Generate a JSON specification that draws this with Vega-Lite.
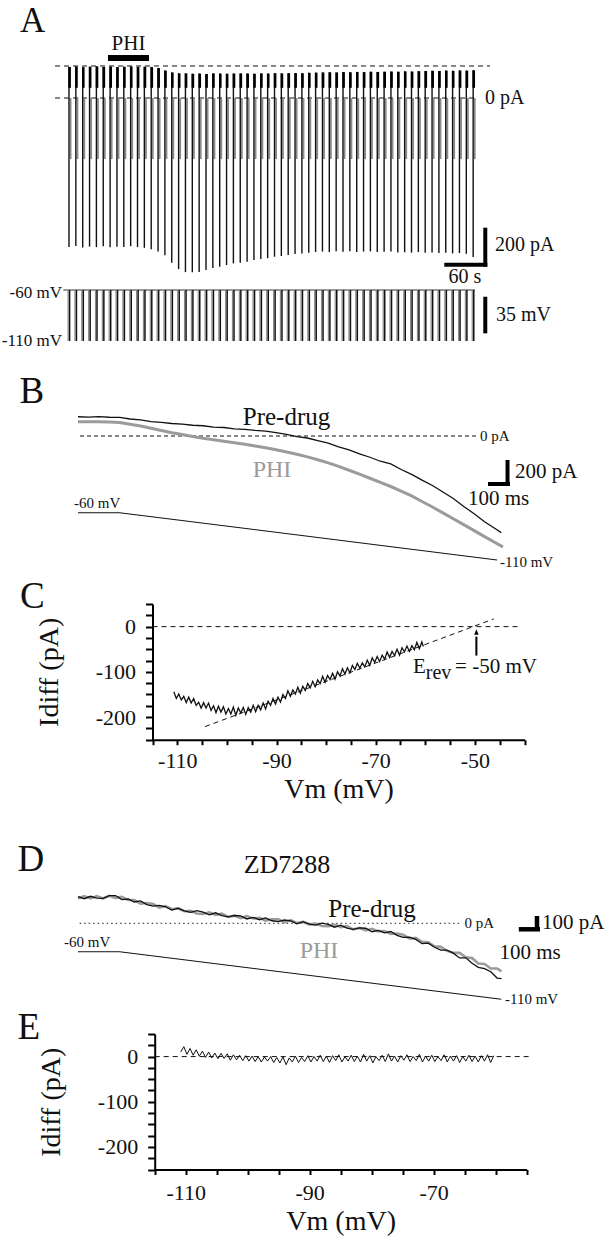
{
"$schema":"https://vega.github.io/schema/vega-lite/v6.json",
"padding":0,"spacing":0,"bounds":"flush","background":"white",
"config":{"view":{"stroke":null},"font":"Liberation Serif, Tinos, Times New Roman, DejaVu Serif, serif","text":{"font":"Liberation Serif, Tinos, Times New Roman, DejaVu Serif, serif","color":"#111"}},
"datasets":{"sweeps":[
{"t":0,"I":168,"I2":-805,"V":-60,"V2":-110},{"t":10,"I":170,"I2":-800,"V":-60,"V2":-110},{"t":20,"I":167,"I2":-808,"V":-60,"V2":-110},{"t":30,"I":169,"I2":-803,"V":-60,"V2":-110},{"t":40,"I":171,"I2":-806,"V":-60,"V2":-110},{"t":50,"I":168,"I2":-802,"V":-60,"V2":-110},{"t":60,"I":170,"I2":-807,"V":-60,"V2":-110},{"t":70,"I":167,"I2":-804,"V":-60,"V2":-110},{"t":80,"I":169,"I2":-805,"V":-60,"V2":-110},{"t":90,"I":170,"I2":-801,"V":-60,"V2":-110},{"t":100,"I":168,"I2":-806,"V":-60,"V2":-110},{"t":110,"I":169,"I2":-810,"V":-60,"V2":-110},{"t":120,"I":167,"I2":-818,"V":-60,"V2":-110},{"t":130,"I":162,"I2":-830,"V":-60,"V2":-110},{"t":140,"I":148,"I2":-850,"V":-60,"V2":-110},{"t":150,"I":138,"I2":-890,"V":-60,"V2":-110},{"t":160,"I":133,"I2":-925,"V":-60,"V2":-110},{"t":170,"I":133,"I2":-941,"V":-60,"V2":-110},{"t":180,"I":131,"I2":-942,"V":-60,"V2":-110},{"t":190,"I":132,"I2":-940,"V":-60,"V2":-110},{"t":200,"I":130,"I2":-930,"V":-60,"V2":-110},{"t":210,"I":133,"I2":-919,"V":-60,"V2":-110},{"t":220,"I":132,"I2":-912,"V":-60,"V2":-110},{"t":230,"I":131,"I2":-903,"V":-60,"V2":-110},{"t":240,"I":132,"I2":-894,"V":-60,"V2":-110},{"t":250,"I":133,"I2":-890,"V":-60,"V2":-110},{"t":260,"I":132,"I2":-885,"V":-60,"V2":-110},{"t":270,"I":131,"I2":-876,"V":-60,"V2":-110},{"t":280,"I":133,"I2":-870,"V":-60,"V2":-110},{"t":290,"I":132,"I2":-866,"V":-60,"V2":-110},{"t":300,"I":134,"I2":-858,"V":-60,"V2":-110},{"t":310,"I":133,"I2":-854,"V":-60,"V2":-110},{"t":320,"I":134,"I2":-849,"V":-60,"V2":-110},{"t":330,"I":135,"I2":-843,"V":-60,"V2":-110},{"t":340,"I":134,"I2":-840,"V":-60,"V2":-110},{"t":350,"I":136,"I2":-836,"V":-60,"V2":-110},{"t":360,"I":137,"I2":-832,"V":-60,"V2":-110},{"t":370,"I":138,"I2":-830,"V":-60,"V2":-110},{"t":380,"I":139,"I2":-833,"V":-60,"V2":-110},{"t":390,"I":138,"I2":-829,"V":-60,"V2":-110},{"t":400,"I":140,"I2":-831,"V":-60,"V2":-110},{"t":410,"I":139,"I2":-828,"V":-60,"V2":-110},{"t":420,"I":141,"I2":-832,"V":-60,"V2":-110},{"t":430,"I":140,"I2":-830,"V":-60,"V2":-110},{"t":440,"I":142,"I2":-829,"V":-60,"V2":-110},{"t":450,"I":141,"I2":-833,"V":-60,"V2":-110},{"t":460,"I":142,"I2":-831,"V":-60,"V2":-110},{"t":470,"I":143,"I2":-830,"V":-60,"V2":-110},{"t":480,"I":142,"I2":-835,"V":-60,"V2":-110},{"t":490,"I":144,"I2":-834,"V":-60,"V2":-110},{"t":500,"I":143,"I2":-836,"V":-60,"V2":-110},{"t":510,"I":145,"I2":-833,"V":-60,"V2":-110},{"t":520,"I":146,"I2":-837,"V":-60,"V2":-110},{"t":530,"I":147,"I2":-835,"V":-60,"V2":-110},{"t":540,"I":146,"I2":-838,"V":-60,"V2":-110},{"t":550,"I":148,"I2":-836,"V":-60,"V2":-110},{"t":560,"I":147,"I2":-840,"V":-60,"V2":-110},{"t":570,"I":149,"I2":-838,"V":-60,"V2":-110},{"t":580,"I":148,"I2":-842,"V":-60,"V2":-110},{"t":590,"I":150,"I2":-860,"V":-60,"V2":-110}
]},
"vconcat":[
{
"width":608,"height":280,
"encoding":{
"x":{"field":"t","type":"quantitative","scale":{"domain":[-100.73,786.86],"nice":false,"zero":false},"axis":null},
"y":{"field":"I","type":"quantitative","scale":{"domain":[-983.78,529.73],"nice":false,"zero":false},"axis":null}},
"layer":[
{"data":{"values":[{"t":-20.4,"t2":614.6,"I":173,"I2":173},{"t":-20.4,"t2":595.6,"I":0,"I2":0}]},
"mark":{"type":"rule","strokeDash":[5,4],"strokeWidth":1,"color":"#111"},
"encoding":{"x2":{"field":"t2"},"y2":{"field":"I2"}}},
{"data":{"name":"sweeps"},"mark":{"type":"rule","strokeWidth":1.8,"color":"#8a8a8a","xOffset":1.6},
"encoding":{"y":{"datum":0,"type":"quantitative"},"y2":{"datum":-330}}},
{"data":{"name":"sweeps"},"mark":{"type":"rule","strokeWidth":1.4,"color":"#111"},
"encoding":{"y2":{"field":"I2"}}},
{"data":{"name":"sweeps"},"mark":{"type":"rule","strokeWidth":2.6,"color":"#000","xOffset":0.6},
"encoding":{"y2":{"datum":55}}},
{"data":{"values":[{"t":56.9,"t2":116.8,"I":216,"I2":216}]},"mark":{"type":"rule","strokeWidth":6,"color":"#000"},
"encoding":{"x2":{"field":"t2"},"y2":{"field":"I2"}}},
{"data":{"values":[{"t":607.7,"t2":607.7,"I":-701.1,"I2":-911.9},{"t":547.9,"t2":610.7,"I":-901.1,"I2":-901.1}]},
"mark":{"type":"rule","strokeWidth":4,"color":"#000"},
"encoding":{"x2":{"field":"t2"},"y2":{"field":"I2"}}},
{"data":{"values":[{"t":-71.5,"I":356.8,"label":"A"}]},"mark":{"type":"text","fontSize":35,"align":"left","baseline":"alphabetic"},"encoding":{"text":{"field":"label"}}},
{"data":{"values":[{"t":86.9,"I":259.5,"label":"PHI"}]},"mark":{"type":"text","fontSize":21,"align":"center","baseline":"alphabetic"},"encoding":{"text":{"field":"label"}}},
{"data":{"values":[{"t":607.3,"I":0,"label":"0 pA"},{"t":621.9,"I":-794.6,"label":"200 pA"}]},"mark":{"type":"text","fontSize":20,"align":"left","baseline":"middle"},"encoding":{"text":{"field":"label"}}},
{"data":{"values":[{"t":578.1,"I":-967.6,"label":"60 s"}]},"mark":{"type":"text","fontSize":20,"align":"center","baseline":"middle"},"encoding":{"text":{"field":"label"}}}
]},
{
"width":608,"height":85,
"encoding":{
"x":{"field":"t","type":"quantitative","scale":{"domain":[-100.73,786.86],"nice":false,"zero":false},"axis":null},
"y":{"field":"V","type":"quantitative","scale":{"domain":[-133.53,-50.196],"nice":false,"zero":false},"axis":null}},
"layer":[
{"data":{"values":[{"t":-8.3,"t2":592.7,"V":-60,"V2":-60}]},"mark":{"type":"rule","strokeWidth":1,"color":"#333"},
"encoding":{"x2":{"field":"t2"},"y2":{"field":"V2"}}},
{"data":{"name":"sweeps"},"mark":{"type":"rule","strokeWidth":1.2,"color":"#8a8a8a","xOffset":-0.9},
"encoding":{"y2":{"field":"V2"}}},
{"data":{"name":"sweeps"},"mark":{"type":"rule","strokeWidth":1.5,"color":"#111","xOffset":0.6},
"encoding":{"y2":{"field":"V2"}}},
{"data":{"values":[{"t":607.7,"t2":607.7,"V":-66.6,"V2":-102.5}]},"mark":{"type":"rule","strokeWidth":4,"color":"#000"},
"encoding":{"x2":{"field":"t2"},"y2":{"field":"V2"}}},
{"data":{"values":[{"t":623.4,"V":-84.5,"label":"35 mV"}]},"mark":{"type":"text","fontSize":20,"align":"left","baseline":"middle"},"encoding":{"text":{"field":"label"}}},
{"data":{"values":[{"t":-10.2,"V":-62.9,"label":"-60 mV"},{"t":-10.2,"V":-110,"label":"-110 mV"}]},"mark":{"type":"text","fontSize":17,"align":"right","baseline":"middle"},"encoding":{"text":{"field":"label"}}}
]},
{
"width":608,"height":238.3,
"resolve":{"scale":{"y":"independent"}},
"layer":[
{"encoding":{
"x":{"field":"t","type":"quantitative","scale":{"domain":[-374.1,2541.97],"nice":false,"zero":false},"axis":null},
"y":{"field":"I","type":"quantitative","scale":{"domain":[-1417.8,601.7],"nice":false,"zero":false},"axis":null}},
"layer":[
{"data":{"values":[{"t":9.6,"t2":1908.9,"I":0,"I2":0}]},"mark":{"type":"rule","strokeDash":[4,3],"strokeWidth":1,"color":"#111"},
"encoding":{"x2":{"field":"t2"},"y2":{"field":"I2"}}},
{"data":{"values":[{"t":0,"I":121},{"t":50,"I":120},{"t":100,"I":121},{"t":150,"I":119},{"t":200,"I":115},{"t":250,"I":100},{"t":300,"I":84},{"t":350,"I":66},{"t":400,"I":47},{"t":450,"I":28},{"t":500,"I":12},{"t":550,"I":-5},{"t":600,"I":-19},{"t":650,"I":-31},{"t":700,"I":-44},{"t":750,"I":-57},{"t":800,"I":-70},{"t":850,"I":-84},{"t":900,"I":-99},{"t":950,"I":-117},{"t":1000,"I":-135},{"t":1050,"I":-155},{"t":1100,"I":-177},{"t":1150,"I":-201},{"t":1200,"I":-228},{"t":1250,"I":-258},{"t":1300,"I":-290},{"t":1350,"I":-323},{"t":1400,"I":-358},{"t":1450,"I":-393},{"t":1500,"I":-428},{"t":1550,"I":-467},{"t":1600,"I":-508},{"t":1650,"I":-555},{"t":1700,"I":-602},{"t":1750,"I":-651},{"t":1800,"I":-701},{"t":1850,"I":-751},{"t":1900,"I":-802},{"t":1950,"I":-853},{"t":2000,"I":-903},{"t":2038,"I":-940}]},
"mark":{"type":"line","strokeWidth":3,"color":"#9b9b9b"}},
{"data":{"values":[{"t":0,"I":163},{"t":50,"I":160},{"t":100,"I":164},{"t":150,"I":159},{"t":200,"I":157},{"t":250,"I":144},{"t":300,"I":137},{"t":350,"I":122},{"t":400,"I":116},{"t":450,"I":106},{"t":500,"I":101},{"t":550,"I":91},{"t":600,"I":87},{"t":650,"I":76},{"t":700,"I":72},{"t":750,"I":61},{"t":800,"I":57},{"t":850,"I":47},{"t":900,"I":42},{"t":950,"I":28},{"t":1000,"I":14},{"t":1050,"I":-6},{"t":1100,"I":-17},{"t":1150,"I":-40},{"t":1200,"I":-61},{"t":1250,"I":-92},{"t":1300,"I":-118},{"t":1350,"I":-152},{"t":1400,"I":-180},{"t":1450,"I":-214},{"t":1500,"I":-237},{"t":1550,"I":-284},{"t":1600,"I":-325},{"t":1650,"I":-374},{"t":1700,"I":-419},{"t":1750,"I":-475},{"t":1800,"I":-530},{"t":1850,"I":-597},{"t":1900,"I":-659},{"t":1950,"I":-727},{"t":2000,"I":-784},{"t":2030,"I":-819}]},
"mark":{"type":"line","strokeWidth":1.3,"color":"#111"}},
{"data":{"values":[{"t":2060,"t2":2060,"I":-203.4,"I2":-423.7},{"t":1966.4,"t2":2072,"I":-406.8,"I2":-406.8}]},"mark":{"type":"rule","strokeWidth":4,"color":"#000"},
"encoding":{"x2":{"field":"t2"},"y2":{"field":"I2"}}},
{"data":{"values":[{"t":-281,"I":277,"label":"B"}]},"mark":{"type":"text","fontSize":37,"align":"left","baseline":"alphabetic"},"encoding":{"text":{"field":"label"}}},
{"data":{"values":[{"t":1000,"I":93.2,"label":"Pre-drug"}]},"mark":{"type":"text","fontSize":25,"align":"center","baseline":"alphabetic"},"encoding":{"text":{"field":"label"}}},
{"data":{"values":[{"t":930.5,"I":-347.5,"label":"PHI"}]},"mark":{"type":"text","fontSize":24,"align":"center","baseline":"alphabetic","color":"#9b9b9b"},"encoding":{"text":{"field":"label"}}},
{"data":{"values":[{"t":1928,"I":0,"label":"0 pA"}]},"mark":{"type":"text","fontSize":15,"align":"left","baseline":"middle"},"encoding":{"text":{"field":"label"}}},
{"data":{"values":[{"t":2096,"I":-305,"label":"200 pA"},{"t":1870.5,"I":-534,"label":"100 ms"}]},"mark":{"type":"text","fontSize":21,"align":"left","baseline":"middle"},"encoding":{"text":{"field":"label"}}}
]},
{"encoding":{
"x":{"field":"t","type":"quantitative","scale":{"domain":[-374.1,2541.97],"nice":false,"zero":false},"axis":null},
"y":{"field":"V","type":"quantitative","scale":{"domain":[-155.77,96.13],"nice":false,"zero":false},"axis":null}},
"layer":[
{"data":{"values":[{"t":0,"V":-60},{"t":200,"V":-60},{"t":2010,"V":-110}]},"mark":{"type":"line","strokeWidth":1.1,"color":"#111"}},
{"data":{"values":[{"t":-19.2,"V":-49.75,"label":"-60 mV"},{"t":2024,"V":-112.1,"label":"-110 mV"}]},"mark":{"type":"text","fontSize":15,"align":"left","baseline":"middle"},"encoding":{"text":{"field":"label"}}}
]}
]},
{
"width":608,"height":135.7,
"encoding":{
"x":{"field":"V","type":"quantitative","scale":{"domain":[-115,-40],"range":[152.5,524.5],"nice":false,"zero":false},
"axis":{"values":[-115,-110,-105,-100,-95,-90,-85,-80,-75,-70,-65,-60,-55,-50,-45,-40],"labelExpr":"(datum.value + 110) % 20 == 0 ? '-' + abs(datum.value) : ''","grid":false,"domainColor":"#000","domainWidth":2,"tickColor":"#000","tickWidth":2,"tickSize":5,"labelFontSize":22,"labelColor":"#111","labelPadding":6,"labelFont":"Liberation Serif, Tinos, Times New Roman, DejaVu Serif, serif","labelOverlap":false,"labelFlush":false,"title":"Vm (mV)","titleFontSize":28,"titleFontWeight":"normal","titleColor":"#111","titleFont":"Liberation Serif, Tinos, Times New Roman, DejaVu Serif, serif","titlePadding":4}},
"y":{"field":"I","type":"quantitative","scale":{"domain":[-250,50],"nice":false,"zero":false},
"axis":{"orient":"left","offset":-152.5,"values":[-250,-225,-200,-175,-150,-125,-100,-75,-50,-25,0,25,50],"labelExpr":"datum.value % 100 == 0 ? (datum.value < 0 ? '-' + abs(datum.value) : '' + datum.value) : ''","grid":false,"domainColor":"#000","domainWidth":2,"tickColor":"#000","tickWidth":2,"tickSize":7,"labelFontSize":22,"labelColor":"#111","labelPadding":10,"labelFont":"Liberation Serif, Tinos, Times New Roman, DejaVu Serif, serif","labelOverlap":false,"labelFlush":false,"title":"Idiff (pA)","titleFontSize":28,"titleFontWeight":"normal","titleColor":"#111","titleFont":"Liberation Serif, Tinos, Times New Roman, DejaVu Serif, serif","titlePadding":32}}},
"layer":[
{"data":{"values":[{"V":-115,"V2":-41.1,"I":0,"I2":0}]},"mark":{"type":"rule","strokeDash":[5,4],"strokeWidth":1,"color":"#111"},
"encoding":{"x2":{"field":"V2"},"y2":{"field":"I2"}}},
{"data":{"values":[{"V":-104.4,"V2":-46.2,"I":-221,"I2":17}]},"mark":{"type":"rule","strokeDash":[5,4],"strokeWidth":1,"color":"#111"},
"encoding":{"x2":{"field":"V2"},"y2":{"field":"I2"}}},
{"data":{"values":[{"V":-110.7,"I":-144},{"V":-110.2,"I":-159},{"V":-109.7,"I":-149},{"V":-109.2,"I":-162},{"V":-108.7,"I":-154},{"V":-108.2,"I":-168},{"V":-107.7,"I":-156},{"V":-107.2,"I":-169},{"V":-106.7,"I":-159},{"V":-106.2,"I":-174},{"V":-105.7,"I":-167},{"V":-105.2,"I":-180},{"V":-104.7,"I":-168},{"V":-104.2,"I":-180},{"V":-103.7,"I":-169},{"V":-103.2,"I":-185},{"V":-102.7,"I":-175},{"V":-102.2,"I":-190},{"V":-101.7,"I":-176},{"V":-101.2,"I":-189},{"V":-100.7,"I":-177},{"V":-100.2,"I":-193},{"V":-99.7,"I":-181},{"V":-99.2,"I":-193},{"V":-98.7,"I":-178},{"V":-98.2,"I":-196},{"V":-97.7,"I":-180},{"V":-97.2,"I":-191},{"V":-96.7,"I":-179},{"V":-96.2,"I":-194},{"V":-95.7,"I":-179},{"V":-95.2,"I":-189},{"V":-94.7,"I":-174},{"V":-94.2,"I":-188},{"V":-93.7,"I":-174},{"V":-93.2,"I":-184},{"V":-92.7,"I":-169},{"V":-92.2,"I":-182},{"V":-91.7,"I":-165},{"V":-91.2,"I":-174},{"V":-90.7,"I":-159},{"V":-90.2,"I":-171},{"V":-89.7,"I":-156},{"V":-89.2,"I":-167},{"V":-88.7,"I":-150},{"V":-88.2,"I":-159},{"V":-87.7,"I":-142},{"V":-87.2,"I":-154},{"V":-86.7,"I":-140},{"V":-86.2,"I":-149},{"V":-85.7,"I":-134},{"V":-85.2,"I":-147},{"V":-84.7,"I":-132},{"V":-84.2,"I":-141},{"V":-83.7,"I":-126},{"V":-83.2,"I":-135},{"V":-82.7,"I":-121},{"V":-82.2,"I":-133},{"V":-81.7,"I":-118},{"V":-81.2,"I":-126},{"V":-80.7,"I":-110},{"V":-80.2,"I":-123},{"V":-79.7,"I":-108},{"V":-79.2,"I":-117},{"V":-78.7,"I":-103},{"V":-78.2,"I":-116},{"V":-77.7,"I":-100},{"V":-77.2,"I":-109},{"V":-76.7,"I":-93},{"V":-76.2,"I":-105},{"V":-75.7,"I":-91},{"V":-75.2,"I":-102},{"V":-74.7,"I":-86},{"V":-74.2,"I":-95},{"V":-73.7,"I":-81},{"V":-73.2,"I":-92},{"V":-72.7,"I":-80},{"V":-72.2,"I":-89},{"V":-71.7,"I":-74},{"V":-71.2,"I":-86},{"V":-70.7,"I":-69},{"V":-70.2,"I":-79},{"V":-69.7,"I":-66},{"V":-69.2,"I":-77},{"V":-68.7,"I":-63},{"V":-68.2,"I":-72},{"V":-67.7,"I":-56},{"V":-67.2,"I":-68},{"V":-66.7,"I":-55},{"V":-66.2,"I":-64},{"V":-65.7,"I":-50},{"V":-65.2,"I":-63},{"V":-64.7,"I":-47},{"V":-64.2,"I":-56},{"V":-63.7,"I":-43},{"V":-63.2,"I":-55},{"V":-62.7,"I":-42},{"V":-62.2,"I":-51},{"V":-61.7,"I":-35},{"V":-61.2,"I":-49},{"V":-60.7,"I":-34},{"V":-60.4,"I":-44}]},
"mark":{"type":"line","strokeWidth":1.3,"color":"#111"}},
{"data":{"values":[{"V":-49.7,"V2":-49.7,"I":-22,"I2":-64}]},"mark":{"type":"rule","strokeWidth":2,"color":"#000"},
"encoding":{"x2":{"field":"V2"},"y2":{"field":"I2"}}},
{"data":{"values":[{"V":-49.7,"I":-12}]},"mark":{"type":"point","shape":"M0,-0.5L0.41,0.5L-0.41,0.5Z","size":121,"filled":true,"color":"#000","opacity":1}},
{"data":{"values":[{"V":-141.71,"I":41.8,"label":"C"}]},"mark":{"type":"text","fontSize":37,"align":"left","baseline":"alphabetic"},"encoding":{"text":{"field":"label"}}},
{"data":{"values":[{"V":-62.5,"I":-101.9,"label":"E"},{"V":-54.0,"I":-101.9,"label":"= -50 mV"}]},"mark":{"type":"text","fontSize":21,"align":"left","baseline":"alphabetic"},"encoding":{"text":{"field":"label"}}},
{"data":{"values":[{"V":-59.9,"I":-115.2,"label":"rev"}]},"mark":{"type":"text","fontSize":20,"align":"left","baseline":"alphabetic"},"encoding":{"text":{"field":"label"}}}
]},
{
"width":608,"height":293.5,
"resolve":{"scale":{"y":"independent"}},
"layer":[
{"encoding":{
"x":{"field":"t","type":"quantitative","scale":{"domain":[-374.1,2541.97],"nice":false,"zero":false},"axis":null},
"y":{"field":"I","type":"quantitative","scale":{"domain":[-734.7,1222],"nice":false,"zero":false},"axis":null}},
"layer":[
{"data":{"values":[{"t":8,"t2":1834.5,"I":0,"I2":0}]},"mark":{"type":"rule","strokeDash":[1.5,3],"strokeWidth":1,"color":"#222"},
"encoding":{"x2":{"field":"t2"},"y2":{"field":"I2"}}},
{"data":{"values":[{"t":0,"I":165},{"t":30,"I":181},{"t":60,"I":166},{"t":90,"I":181},{"t":120,"I":165},{"t":150,"I":183},{"t":180,"I":170},{"t":210,"I":177},{"t":240,"I":155},{"t":270,"I":155},{"t":300,"I":131},{"t":330,"I":135},{"t":360,"I":129},{"t":390,"I":105},{"t":420,"I":115},{"t":450,"I":94},{"t":480,"I":99},{"t":510,"I":80},{"t":540,"I":83},{"t":570,"I":65},{"t":600,"I":62},{"t":630,"I":73},{"t":660,"I":56},{"t":690,"I":64},{"t":720,"I":42},{"t":750,"I":51},{"t":780,"I":35},{"t":810,"I":48},{"t":840,"I":32},{"t":870,"I":37},{"t":900,"I":18},{"t":930,"I":27},{"t":960,"I":26},{"t":990,"I":7},{"t":1020,"I":21},{"t":1050,"I":2},{"t":1080,"I":9},{"t":1110,"I":-8},{"t":1140,"I":-2},{"t":1170,"I":-18},{"t":1200,"I":-20},{"t":1230,"I":-9},{"t":1260,"I":-26},{"t":1290,"I":-19},{"t":1320,"I":-41},{"t":1350,"I":-31},{"t":1380,"I":-48},{"t":1410,"I":-37},{"t":1440,"I":-54},{"t":1470,"I":-51},{"t":1500,"I":-71},{"t":1530,"I":-68},{"t":1560,"I":-76},{"t":1590,"I":-103},{"t":1620,"I":-97},{"t":1650,"I":-124},{"t":1680,"I":-126},{"t":1710,"I":-153},{"t":1740,"I":-157},{"t":1770,"I":-184},{"t":1800,"I":-196},{"t":1830,"I":-197},{"t":1860,"I":-226},{"t":1890,"I":-232},{"t":1920,"I":-268},{"t":1950,"I":-271},{"t":1980,"I":-301},{"t":2010,"I":-301},{"t":2031,"I":-321}]},
"mark":{"type":"line","strokeWidth":2.6,"color":"#9b9b9b"}},
{"data":{"values":[{"t":0,"I":178},{"t":30,"I":164},{"t":60,"I":180},{"t":90,"I":168},{"t":120,"I":166},{"t":150,"I":184},{"t":180,"I":185},{"t":210,"I":158},{"t":240,"I":162},{"t":270,"I":142},{"t":300,"I":149},{"t":330,"I":125},{"t":360,"I":114},{"t":390,"I":120},{"t":420,"I":110},{"t":450,"I":88},{"t":480,"I":101},{"t":510,"I":83},{"t":540,"I":73},{"t":570,"I":84},{"t":600,"I":75},{"t":630,"I":56},{"t":660,"I":70},{"t":690,"I":51},{"t":720,"I":43},{"t":750,"I":52},{"t":780,"I":50},{"t":810,"I":29},{"t":840,"I":39},{"t":870,"I":24},{"t":900,"I":36},{"t":930,"I":17},{"t":960,"I":11},{"t":990,"I":22},{"t":1020,"I":16},{"t":1050,"I":-4},{"t":1080,"I":11},{"t":1110,"I":-5},{"t":1140,"I":-12},{"t":1170,"I":1},{"t":1200,"I":-7},{"t":1230,"I":-26},{"t":1260,"I":-12},{"t":1290,"I":-32},{"t":1320,"I":-40},{"t":1350,"I":-30},{"t":1380,"I":-33},{"t":1410,"I":-56},{"t":1440,"I":-47},{"t":1470,"I":-64},{"t":1500,"I":-55},{"t":1530,"I":-80},{"t":1560,"I":-94},{"t":1590,"I":-92},{"t":1620,"I":-107},{"t":1650,"I":-136},{"t":1680,"I":-132},{"t":1710,"I":-160},{"t":1740,"I":-179},{"t":1770,"I":-179},{"t":1800,"I":-199},{"t":1830,"I":-231},{"t":1860,"I":-230},{"t":1890,"I":-267},{"t":1920,"I":-294},{"t":1950,"I":-302},{"t":1980,"I":-323},{"t":2010,"I":-365},{"t":2031,"I":-369}]},
"mark":{"type":"line","strokeWidth":1.3,"color":"#111"}},
{"data":{"values":[{"t":2201.4,"t2":2201.4,"I":48.7,"I2":-51.3},{"t":2114.1,"t2":2215.8,"I":-40,"I2":-40}]},"mark":{"type":"rule","strokeWidth":4.5,"color":"#000"},
"encoding":{"x2":{"field":"t2"},"y2":{"field":"I2"}}},
{"data":{"values":[{"t":-290.2,"I":348.7,"label":"D"}]},"mark":{"type":"text","fontSize":37,"align":"left","baseline":"alphabetic"},"encoding":{"text":{"field":"label"}}},
{"data":{"values":[{"t":1002.4,"I":335.3,"label":"ZD7288"}]},"mark":{"type":"text","fontSize":26,"align":"center","baseline":"alphabetic"},"encoding":{"text":{"field":"label"}}},
{"data":{"values":[{"t":1410,"I":42,"label":"Pre-drug"}]},"mark":{"type":"text","fontSize":25,"align":"center","baseline":"alphabetic"},"encoding":{"text":{"field":"label"}}},
{"data":{"values":[{"t":1155.9,"I":-229.3,"label":"PHI"}]},"mark":{"type":"text","fontSize":24,"align":"center","baseline":"alphabetic","color":"#9b9b9b"},"encoding":{"text":{"field":"label"}}},
{"data":{"values":[{"t":1853.2,"I":0,"label":"0 pA"}]},"mark":{"type":"text","fontSize":15,"align":"left","baseline":"middle"},"encoding":{"text":{"field":"label"}}},
{"data":{"values":[{"t":2225.4,"I":2,"label":"100 pA"},{"t":2021.1,"I":-196,"label":"100 ms"}]},"mark":{"type":"text","fontSize":21,"align":"left","baseline":"middle"},"encoding":{"text":{"field":"label"}}}
]},
{"encoding":{
"x":{"field":"t","type":"quantitative","scale":{"domain":[-374.1,2541.97],"nice":false,"zero":false},"axis":null},
"y":{"field":"V","type":"quantitative","scale":{"domain":[-145.92,162.37],"nice":false,"zero":false},"axis":null}},
"layer":[
{"data":{"values":[{"t":0,"V":-60},{"t":200,"V":-60},{"t":2030,"V":-110}]},"mark":{"type":"line","strokeWidth":1.1,"color":"#111"}},
{"data":{"values":[{"t":-67.1,"V":-49.8,"label":"-60 mV"},{"t":2048,"V":-110,"label":"-110 mV"}]},"mark":{"type":"text","fontSize":15,"align":"left","baseline":"middle"},"encoding":{"text":{"field":"label"}}}
]}
]},
{
"width":608,"height":135.5,
"encoding":{
"x":{"field":"V","type":"quantitative","scale":{"domain":[-115,-55],"range":[154.7,526.6],"nice":false,"zero":false},
"axis":{"values":[-115,-110,-105,-100,-95,-90,-85,-80,-75,-70,-65,-60,-55],"labelExpr":"(datum.value + 110) % 20 == 0 ? '-' + abs(datum.value) : ''","grid":false,"domainColor":"#000","domainWidth":2,"tickColor":"#000","tickWidth":2,"tickSize":5,"labelFontSize":22,"labelColor":"#111","labelPadding":8,"labelFont":"Liberation Serif, Tinos, Times New Roman, DejaVu Serif, serif","labelOverlap":false,"labelFlush":false,"title":"Vm (mV)","titleFontSize":28,"titleFontWeight":"normal","titleColor":"#111","titleFont":"Liberation Serif, Tinos, Times New Roman, DejaVu Serif, serif","titlePadding":4}},
"y":{"field":"I","type":"quantitative","scale":{"domain":[-250,50],"nice":false,"zero":false},
"axis":{"orient":"left","offset":-154.7,"values":[-250,-225,-200,-175,-150,-125,-100,-75,-50,-25,0,25,50],"labelExpr":"datum.value % 100 == 0 ? (datum.value < 0 ? '-' + abs(datum.value) : '' + datum.value) : ''","grid":false,"domainColor":"#000","domainWidth":2,"tickColor":"#000","tickWidth":2,"tickSize":7,"labelFontSize":22,"labelColor":"#111","labelPadding":10,"labelFont":"Liberation Serif, Tinos, Times New Roman, DejaVu Serif, serif","labelOverlap":false,"labelFlush":false,"title":"Idiff (pA)","titleFontSize":28,"titleFontWeight":"normal","titleColor":"#111","titleFont":"Liberation Serif, Tinos, Times New Roman, DejaVu Serif, serif","titlePadding":32}}},
"layer":[
{"data":{"values":[{"V":-115,"V2":-54.67,"I":0,"I2":0}]},"mark":{"type":"rule","strokeDash":[5,4],"strokeWidth":1,"color":"#111"},
"encoding":{"x2":{"field":"V2"},"y2":{"field":"I2"}}},
{"data":{"values":[{"V":-110.8,"I":10},{"V":-110.3,"I":22},{"V":-109.8,"I":5},{"V":-109.3,"I":18},{"V":-108.8,"I":3},{"V":-108.3,"I":15},{"V":-107.8,"I":1},{"V":-107.3,"I":12},{"V":-106.8,"I":-2},{"V":-106.3,"I":10},{"V":-105.8,"I":-3},{"V":-105.3,"I":8},{"V":-104.8,"I":-5},{"V":-104.3,"I":7},{"V":-103.8,"I":-4},{"V":-103.3,"I":6},{"V":-102.8,"I":-8},{"V":-102.3,"I":4},{"V":-101.8,"I":-7},{"V":-101.3,"I":3},{"V":-100.8,"I":-9},{"V":-100.3,"I":2},{"V":-99.8,"I":-10},{"V":-99.3,"I":1},{"V":-98.8,"I":-11},{"V":-98.3,"I":0},{"V":-97.8,"I":-12},{"V":-97.3,"I":-1},{"V":-96.8,"I":-10},{"V":-96.3,"I":0},{"V":-95.8,"I":-13},{"V":-95.3,"I":-2},{"V":-94.8,"I":-14},{"V":-94.3,"I":-1},{"V":-93.8,"I":-18},{"V":-93.3,"I":-3},{"V":-92.8,"I":-12},{"V":-92.3,"I":1},{"V":-91.8,"I":-13},{"V":-91.3,"I":-2},{"V":-90.8,"I":-11},{"V":-90.3,"I":2},{"V":-89.8,"I":-12},{"V":-89.3,"I":0},{"V":-88.8,"I":-10},{"V":-88.3,"I":3},{"V":-87.8,"I":-11},{"V":-87.3,"I":1},{"V":-86.8,"I":-13},{"V":-86.3,"I":2},{"V":-85.8,"I":-9},{"V":-85.3,"I":4},{"V":-84.8,"I":-12},{"V":-84.3,"I":0},{"V":-83.8,"I":-10},{"V":-83.3,"I":3},{"V":-82.8,"I":-11},{"V":-82.3,"I":1},{"V":-81.8,"I":-12},{"V":-81.3,"I":5},{"V":-80.8,"I":-10},{"V":-80.3,"I":2},{"V":-79.8,"I":-14},{"V":-79.3,"I":0},{"V":-78.8,"I":-9},{"V":-78.3,"I":3},{"V":-77.8,"I":-11},{"V":-77.3,"I":6},{"V":-76.8,"I":-10},{"V":-76.3,"I":1},{"V":-75.8,"I":-12},{"V":-75.3,"I":2},{"V":-74.8,"I":-8},{"V":-74.3,"I":4},{"V":-73.8,"I":-11},{"V":-73.3,"I":0},{"V":-72.8,"I":-9},{"V":-72.3,"I":5},{"V":-71.8,"I":-12},{"V":-71.3,"I":1},{"V":-70.8,"I":-10},{"V":-70.3,"I":3},{"V":-69.8,"I":-11},{"V":-69.3,"I":0},{"V":-68.8,"I":-9},{"V":-68.3,"I":4},{"V":-67.8,"I":-12},{"V":-67.3,"I":1},{"V":-66.8,"I":-10},{"V":-66.3,"I":2},{"V":-65.8,"I":-13},{"V":-65.3,"I":0},{"V":-64.8,"I":-10},{"V":-64.3,"I":3},{"V":-63.8,"I":-11},{"V":-63.3,"I":1},{"V":-62.8,"I":-12},{"V":-62.3,"I":2},{"V":-61.8,"I":-10},{"V":-61.3,"I":4},{"V":-60.8,"I":-13},{"V":-60.3,"I":2}]},
"mark":{"type":"line","strokeWidth":1,"color":"#111"}},
{"data":{"values":[{"V":-137.14,"I":40,"label":"E"}]},"mark":{"type":"text","fontSize":37,"align":"left","baseline":"alphabetic"},"encoding":{"text":{"field":"label"}}}
]}
]
}
